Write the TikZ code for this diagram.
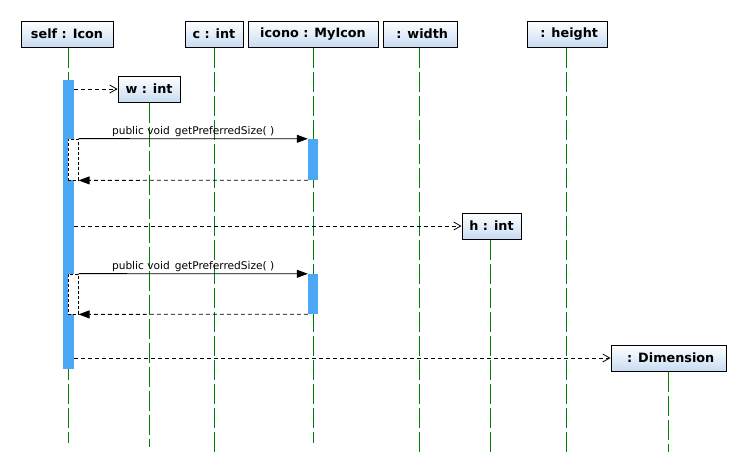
\documentclass[tikz,border=0pt]{standalone}
\usepackage{fontspec}
\setmainfont{DejaVu Sans}
\usetikzlibrary{arrows.meta}
\definecolor{actblue}{RGB}{75,168,245}
\definecolor{hdrblue}{RGB}{200,220,242}
\definecolor{lifegreen}{RGB}{0,128,0}
\tikzset{
  hdr/.style={draw=black, line width=1pt, top color=white, bottom color=hdrblue,
    font=\fontsize{12.8}{14}\selectfont\bfseries, inner sep=0pt, minimum height=26},
  life/.style={draw=lifegreen, line width=1pt, dash pattern=on 20pt off 4pt},
  act/.style={fill=actblue, draw=none, inner sep=0pt, minimum width=11},
  nest/.style={fill=white, draw=black, dash pattern=on 3pt off 2pt, line width=0.8pt, inner sep=0pt, minimum width=10},
  create/.style={draw=black, line width=0.8pt, dash pattern=on 4pt off 3pt, -{Straight Barb[length=7pt,width=8pt]}},
  call/.style={draw=black, line width=0.8pt, -{Triangle[length=11pt,width=8pt]}},
  ret/.style={draw=black, line width=0.8pt, dash pattern=on 4pt off 3pt, -{Triangle[length=11pt,width=8pt]}},
  msglabel/.style={font=\fontsize{10.6}{12}\selectfont, inner sep=1.5pt, above}
}
\begin{document}
\begin{tikzpicture}[x=1pt,y=-1pt]
\useasboundingbox (0,0) rectangle (746,472);
% header objects
\node[hdr, minimum width=92] (self) at (67,34) {self : Icon};
\node[hdr, minimum width=58] (c) at (214,34) {c : int};
\node[hdr, minimum width=130] (icono) at (313,34) {icono : MyIcon};
\node[hdr, minimum width=74] (width) at (420,34) {\ : width};
\node[hdr, minimum width=80] (height) at (567,34) {\ : height};
% created objects
\node[hdr, minimum width=62] (w) at (149,89) {w : int};
\node[hdr, minimum width=59] (h) at (491.5,226) {h : int};
\node[hdr, minimum width=115] (dim) at (668.5,358) {\ : Dimension};
% lifeline ends
\coordinate (selfE) at (68.5,443);
\coordinate (cE) at (214.5,452);
\coordinate (iconoE) at (313.5,443);
\coordinate (widthE) at (419.5,452);
\coordinate (heightE) at (566.5,452);
\coordinate (wE) at (149.5,447);
\coordinate (hE) at (490.5,452);
\coordinate (dimE) at (668.5,452);
% lifelines
\draw[life] (self.south -| selfE) -- (selfE);
\draw[life] (c.south -| cE) -- (cE);
\draw[life] (icono.south -| iconoE) -- (iconoE);
\draw[life] (width.south -| widthE) -- (widthE);
\draw[life] (height.south -| heightE) -- (heightE);
\draw[life] (w.south -| wE) -- (wE);
\draw[life] (h.south -| hE) -- (hE);
\draw[life] (dim.south -| dimE) -- (dimE);
% activations
\node[act, minimum height=289] (selfact) at (68.5,224.5) {};
\node[nest, minimum height=41] (nest1) at (73.2,159.5) {};
\node[act, minimum width=10, minimum height=41] (ico1) at (313,159.5) {};
\node[nest, minimum height=40] (nest2) at (73.2,294) {};
\node[act, minimum width=10, minimum height=40] (ico2) at (313,294) {};
% messages
\draw[create] (selfact.east |- w.west) -- (w.west);
\draw[call] (nest1.north east) -- node[msglabel] {public void\, getPreferredSize( )} (ico1.north west);
\draw[ret] (ico1.south west) -- (nest1.south east);
\draw[create] (selfact.east |- h.west) -- (h.west);
\draw[call] (nest2.north east) -- node[msglabel] {public void\, getPreferredSize( )} (ico2.north west);
\draw[ret] (ico2.south west) -- (nest2.south east);
\draw[create] (selfact.east |- dim.west) -- (dim.west);
\end{tikzpicture}
\end{document}
